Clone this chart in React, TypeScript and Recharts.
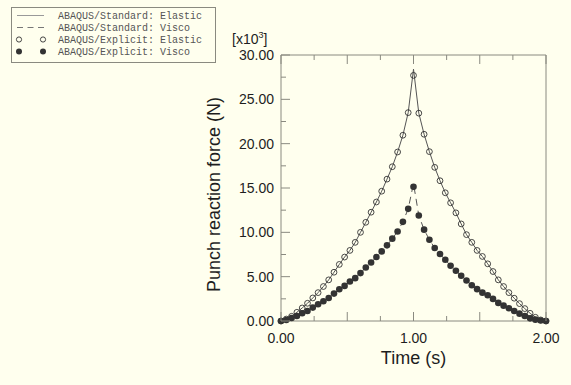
import React from "react";
import { ComposedChart, Line, Scatter, XAxis, YAxis, Legend } from "recharts";

const times = [
  0, 0.04, 0.08, 0.12, 0.16, 0.2, 0.24, 0.28, 0.32, 0.36, 0.4, 0.44, 0.48, 0.52, 0.56, 0.6, 0.64,
  0.68, 0.72, 0.76, 0.8, 0.84, 0.88, 0.92, 0.96, 1.0, 1.04, 1.08, 1.12, 1.16, 1.2, 1.24, 1.28,
  1.32, 1.36, 1.4, 1.44, 1.48, 1.52, 1.56, 1.6, 1.64, 1.68, 1.72, 1.76, 1.8, 1.84, 1.88, 1.92,
  1.96, 2.0,
];

// ABAQUS/Explicit: Elastic (open circles), in units of 10^3 N
const explicitElastic = [
  0, 0.22, 0.53, 0.98, 1.47, 2.0, 2.6, 3.2, 3.89, 4.64, 5.5, 6.38, 7.21, 7.96, 8.87, 10.0, 11.13,
  12.27, 13.42, 14.64, 16.0, 17.4, 19.06, 20.95, 23.5, 27.7, 23.44, 21.06, 19.1, 17.33, 15.82,
  14.46, 13.33, 12.2, 10.95, 9.74, 8.87, 7.96, 7.28, 6.45, 5.58, 4.64, 3.89, 3.2, 2.57, 1.96,
  1.4, 0.87, 0.42, 0.12, 0,
];

// ABAQUS/Explicit: Visco (filled circles)
const explicitVisco = [
  0, 0.11, 0.34, 0.57, 0.87, 1.13, 1.51, 1.89, 2.23, 2.6, 3.09, 3.58, 3.96, 4.45, 4.83, 5.4, 6.04,
  6.6, 7.21, 7.85, 8.53, 9.29, 10.1, 11.18, 12.65, 15.14, 11.9, 10.3, 9.17, 8.23, 7.55, 6.9, 6.23,
  5.66, 5.1, 4.56, 4.04, 3.59, 3.2, 2.9, 2.49, 2.04, 1.73, 1.43, 1.13, 0.83, 0.57, 0.3, 0.15, 0.05,
  0,
];

// ABAQUS/Standard: Elastic (solid line)
const standardElastic = [
  0, 0.22, 0.53, 0.98, 1.47, 2.0, 2.6, 3.2, 3.89, 4.64, 5.5, 6.38, 7.21, 7.96, 8.87, 10.0, 11.13,
  12.27, 13.42, 14.64, 16.0, 17.4, 19.06, 20.95, 23.5, 28.4, 23.44, 21.06, 19.1, 17.33, 15.82,
  14.46, 13.33, 12.2, 10.95, 9.74, 8.87, 7.96, 7.28, 6.45, 5.58, 4.64, 3.89, 3.2, 2.57, 1.96,
  1.4, 0.87, 0.42, 0.12, 0,
];

// ABAQUS/Standard: Visco (dashed line)
const standardVisco = [
  0, 0.11, 0.34, 0.57, 0.87, 1.13, 1.51, 1.89, 2.23, 2.6, 3.09, 3.58, 3.96, 4.45, 4.83, 5.4, 6.04,
  6.6, 7.21, 7.85, 8.53, 9.29, 10.1, 11.18, 12.65, 15.5, 11.9, 10.3, 9.17, 8.23, 7.55, 6.9, 6.23,
  5.66, 5.1, 4.56, 4.04, 3.59, 3.2, 2.9, 2.49, 2.04, 1.73, 1.43, 1.13, 0.83, 0.57, 0.3, 0.15, 0.05,
  0,
];

const xTicks = [0, 0.25, 0.5, 0.75, 1, 1.25, 1.5, 1.75, 2];
const yTicks = [0, 2.5, 5, 7.5, 10, 12.5, 15, 17.5, 20, 22.5, 25, 27.5, 30];

const legendLabels = [
  "ABAQUS/Standard: Elastic",
  "ABAQUS/Standard: Visco",
  "ABAQUS/Explicit: Elastic",
  "ABAQUS/Explicit: Visco",
];

const data = times.map((t, i) => ({
  t,
  se: standardElastic[i],
  sv: standardVisco[i],
  ee: explicitElastic[i],
  ev: explicitVisco[i],
}));

const AXIS = "#8a8a80";
const TEXT = "#1e1e1e";
const INK = "#333333";
const FONT = "'Liberation Sans', Arial, Helvetica, sans-serif";
const BG = "#ffffee";

const isMajorX = (v: number) => Math.abs(v * 2 - Math.round(v * 2)) < 1e-6;
const isMajorY = (v: number) => Math.abs(v / 5 - Math.round(v / 5)) < 1e-6;

const BottomTick = (props: any) => {
  const { x, y, payload } = props;
  const v = payload.value as number;
  const len = isMajorX(v) ? 9 : 5;
  const labeled = Math.abs(v - Math.round(v)) < 1e-6;
  return (
    <g>
      <line x1={x} x2={x} y1={y} y2={y - len} stroke={AXIS} strokeWidth={1} />
      {labeled && (
        <text x={x} y={y + 22} textAnchor="middle" fontSize={14} fontFamily={FONT} fill={TEXT}>
          {v.toFixed(2)}
        </text>
      )}
    </g>
  );
};

const TopTick = (props: any) => {
  const { x, y, payload } = props;
  const v = payload.value as number;
  const len = isMajorX(v) ? 9 : 5;
  return <line x1={x} x2={x} y1={y} y2={y + len} stroke={AXIS} strokeWidth={1} />;
};

const LeftTick = (props: any) => {
  const { x, y, payload } = props;
  const v = payload.value as number;
  const len = isMajorY(v) ? 9 : 5;
  return (
    <g>
      <line x1={x} x2={x + len} y1={y} y2={y} stroke={AXIS} strokeWidth={1} />
      {isMajorY(v) && (
        <text x={x - 7} y={y + 5} textAnchor="end" fontSize={14} fontFamily={FONT} fill={TEXT}>
          {v.toFixed(2)}
        </text>
      )}
    </g>
  );
};

const RightTick = (props: any) => {
  const { x, y, payload } = props;
  const v = payload.value as number;
  const len = isMajorY(v) ? 9 : 5;
  return <line x1={x} x2={x - len} y1={y} y2={y} stroke={AXIS} strokeWidth={1} />;
};

const OpenDot = (props: any) => {
  const { cx, cy } = props;
  return <circle cx={cx} cy={cy} r={2.9} fill="none" stroke={INK} strokeWidth={0.9} />;
};

const FilledDot = (props: any) => {
  const { cx, cy } = props;
  return <circle cx={cx} cy={cy} r={3.3} fill={INK} stroke="none" />;
};

const LegendBox = () => {
  const rows = [8.5, 20.5, 32.5, 44.5];
  return (
    <svg width={205} height={56} style={{ display: "block" }}>
      <rect x={0.5} y={0.5} width={204} height={55} fill={BG} stroke={AXIS} strokeWidth={1} />
      <line x1={6} x2={33} y1={rows[0]} y2={rows[0]} stroke="#999" strokeWidth={1} />
      <line x1={6} x2={33} y1={rows[1]} y2={rows[1]} stroke="#777" strokeWidth={1} strokeDasharray="6 4.5" />
      <circle cx={8} cy={rows[2]} r={2.6} fill="none" stroke={INK} strokeWidth={0.9} />
      <circle cx={32} cy={rows[2]} r={2.6} fill="none" stroke={INK} strokeWidth={0.9} />
      <circle cx={8} cy={rows[3]} r={3} fill={INK} />
      <circle cx={32} cy={rows[3]} r={3} fill={INK} />
      {legendLabels.map((lab, i) => (
        <text
          key={lab}
          x={47}
          y={rows[i] + 3.5}
          fontSize={10}
          fontFamily="'Liberation Mono', 'DejaVu Sans Mono', monospace"
          fill="#555"
        >
          {lab}
        </text>
      ))}
    </svg>
  );
};

export default function App() {
  return (
    <div
      style={{
        position: "fixed",
        left: 0,
        top: 0,
        width: 571,
        height: 385,
        background: BG,
      }}
    >
      <ComposedChart
        width={571}
        height={385}
        data={data}
        margin={{ top: 0, right: 0, bottom: 0, left: 0 }}
        style={{ background: BG }}
      >
        <XAxis
          xAxisId={0}
          dataKey="t"
          type="number"
          domain={[0, 2]}
          ticks={xTicks}
          interval={0}
          height={64}
          tickSize={0}
          tickMargin={0}
          tickLine={false}
          axisLine={{ stroke: AXIS }}
          tick={BottomTick}
        />
        <XAxis
          xAxisId="top"
          orientation="top"
          dataKey="t"
          type="number"
          domain={[0, 2]}
          ticks={xTicks}
          interval={0}
          height={55}
          tickSize={0}
          tickMargin={0}
          tickLine={false}
          axisLine={{ stroke: AXIS }}
          tick={TopTick}
        />
        <YAxis
          yAxisId={0}
          type="number"
          domain={[0, 30]}
          ticks={yTicks}
          interval={0}
          width={281}
          tickSize={0}
          tickMargin={0}
          tickLine={false}
          axisLine={{ stroke: AXIS }}
          tick={LeftTick}
        />
        <YAxis
          yAxisId="right"
          orientation="right"
          type="number"
          domain={[0, 30]}
          ticks={yTicks}
          interval={0}
          width={25}
          tickSize={0}
          tickMargin={0}
          tickLine={false}
          axisLine={{ stroke: AXIS }}
          tick={RightTick}
        />
        <Line
          dataKey="se"
          type="linear"
          stroke="#555"
          strokeWidth={1}
          dot={false}
          isAnimationActive={false}
        />
        <Line
          dataKey="sv"
          type="linear"
          stroke="#555"
          strokeWidth={1}
          strokeDasharray="7 5"
          dot={false}
          isAnimationActive={false}
        />
        <Scatter dataKey="ee" shape={OpenDot} isAnimationActive={false} />
        <Scatter dataKey="ev" shape={FilledDot} isAnimationActive={false} />
        <Legend
          layout="vertical"
          align="center"
          verticalAlign="middle"
          wrapperStyle={{ position: "absolute", top: 7, left: 11, width: 205, height: 56 }}
          content={() => <LegendBox />}
        />
        <text x={232} y={44} fontSize={14} fontFamily={FONT} fill={TEXT}>
          [x10
          <tspan fontSize={9} dy={-6}>3</tspan>
          <tspan dy={6}>]</tspan>
        </text>
        <text
          transform="translate(220, 194.5) rotate(-90)"
          textAnchor="middle"
          fontSize={18}
          fontFamily={FONT}
          fill={TEXT}
        >
          Punch reaction force (N)
        </text>
        <text x={413.5} y={364} textAnchor="middle" fontSize={18} fontFamily={FONT} fill={TEXT}>
          Time (s)
        </text>
      </ComposedChart>
    </div>
  );
}
